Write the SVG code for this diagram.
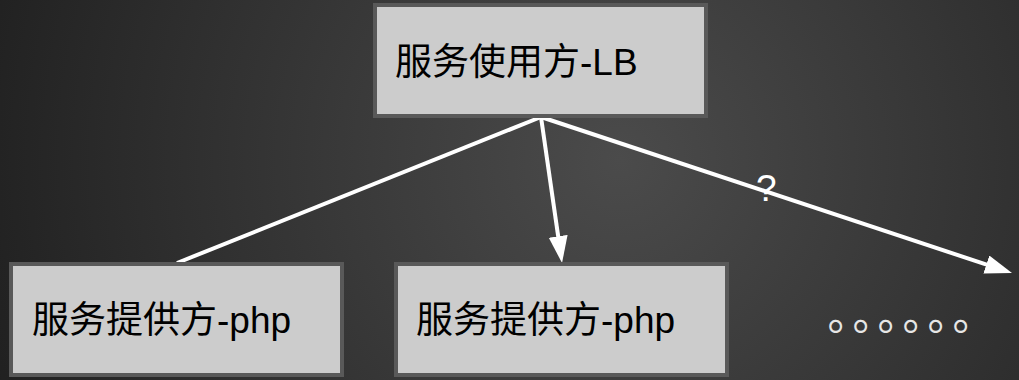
<svg xmlns="http://www.w3.org/2000/svg" width="1019" height="380" viewBox="0 0 1019 380">
  <defs>
    <radialGradient id="bg" gradientUnits="userSpaceOnUse" cx="620" cy="160" r="700">
      <stop offset="0" stop-color="#4b4b4b"/>
      <stop offset="1" stop-color="#1e1e1e"/>
    </radialGradient>
    <marker id="arrow" markerUnits="userSpaceOnUse" markerWidth="28" markerHeight="20" refX="17" refY="9.5" orient="auto" viewBox="0 0 28 20">
      <path d="M0,0 L27,9.5 L0,19 z" fill="#ffffff"/>
    </marker>
    <style>
      .box { fill: #cccccc; stroke: #595959; stroke-width: 4; }
      .label { font-family: "Liberation Sans", "Noto Sans CJK SC", Arial, sans-serif; font-size: 37px; fill: #000000; }
      .edge { stroke: #ffffff; stroke-width: 4; fill: none; }
      .edge-label { font-family: "Liberation Sans", Arial, sans-serif; font-size: 37px; fill: #ffffff; }
    </style>
  </defs>
  <rect x="0" y="0" width="1019" height="380" fill="url(#bg)"/>

  <g id="connectors">
    <line class="edge" x1="541" y1="117" x2="177" y2="263"/>
    <line class="edge" x1="541" y1="117" x2="560.6" y2="253.1" marker-end="url(#arrow)"/>
    <line class="edge" x1="541" y1="117" x2="1002.5" y2="269.9" marker-end="url(#arrow)"/>
    <text class="edge-label" x="756" y="201">?</text>
  </g>

  <g id="node-lb">
    <rect class="box" x="375" y="5" width="331" height="111"/>
    <text class="label" x="395" y="75">服务使用方-LB</text>
  </g>

  <g id="node-php-1">
    <rect class="box" x="11" y="264" width="331" height="111"/>
    <text class="label" x="32" y="333">服务提供方-php</text>
  </g>

  <g id="node-php-2">
    <rect class="box" x="396" y="264" width="331" height="111"/>
    <text class="label" x="416" y="333">服务提供方-php</text>
  </g>

  <g id="node-more">
    <text x="827.6 852.6 877.6 902.6 927.6 952.6" y="330" font-family="'Noto Sans CJK SC', sans-serif" font-size="42" fill="#e6e6e6">。。。。。。</text>
  </g>
</svg>
